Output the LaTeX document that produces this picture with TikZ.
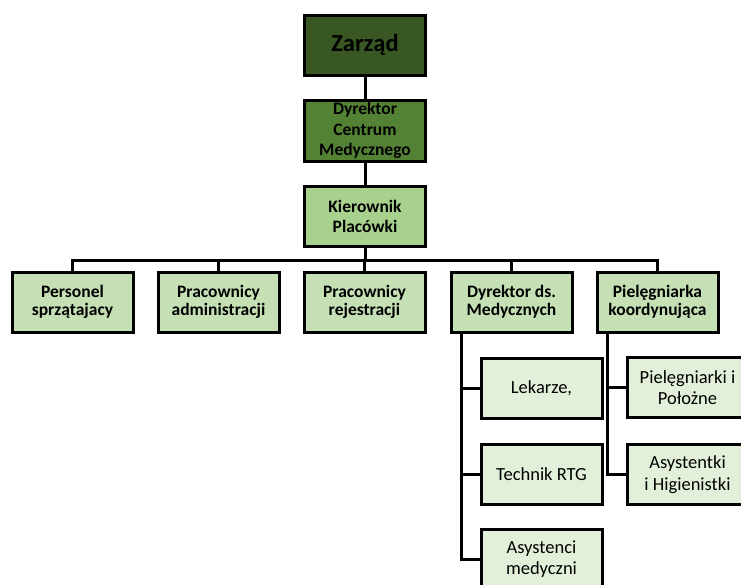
\documentclass[tikz,border=0pt]{standalone}
\usepackage{fontspec}
\setmainfont{Carlito}
\definecolor{gA}{HTML}{385723}
\definecolor{gB}{HTML}{548235}
\definecolor{gC}{HTML}{A9D18E}
\definecolor{gD}{HTML}{C5E0B4}
\definecolor{gE}{HTML}{E2F0D9}
\begin{document}
\begin{tikzpicture}[x=1pt,y=-1pt,
  box/.style={draw=black,line width=3pt,minimum width=121pt,minimum height=60pt,inner sep=0pt,align=center,text=black},
  topbox/.style={box,fill=gA,font=\bfseries\fontsize{24.5}{28}\selectfont},
  dirbox/.style={box,fill=gB,minimum height=61pt,font=\bfseries\fontsize{17.5}{20.8}\selectfont},
  kierbox/.style={box,fill=gC,font=\bfseries\fontsize{17.5}{20}\selectfont},
  secbox/.style={box,fill=gD,font=\bfseries\fontsize{17.5}{18}\selectfont},
  subbox/.style={box,fill=gE,font=\fontsize{18.5}{21.7}\selectfont},
  conn/.style={line width=3pt,line join=miter}]
\useasboundingbox (0,0) rectangle (741,584);
\clip (0,0) rectangle (741,584);
\node[topbox] (zarz) at (365,45) {Zarząd};
\node[dirbox] (dcm) at (365,130.5) {Dyrektor\\Centrum\\Medycznego};
\node[kierbox] (kier) at (365,216) {Kierownik\\Placówki};
\coordinate (bus) at (365,260);
\node[secbox] (pers) at (72.5,302) {Personel\\sprzątajacy};
\node[secbox] (adm) at (218.5,302) {Pracownicy\\administracji};
\node[secbox] (rej) at (364.5,302) {Pracownicy\\rejestracji};
\node[secbox] (dds) at (511.5,302) {Dyrektor ds.\\Medycznych};
\node[secbox] (piel) at (657.5,302) {Pielęgniarka\\koordynująca};
\node[subbox] (lek) at (541.5,388) {Lekarze,};
\node[subbox] (rtg) at (541.5,474) {Technik RTG};
\node[subbox] (asm) at (541.5,559) {Asystenci\\medyczni};
\node[subbox] (poz) at (687.5,387.5) {Pielęgniarki i\\Położne};
\node[subbox] (hig) at (687.5,474.5) {Asystentki\\i Higienistki};
\draw[conn] (zarz) -- (dcm);
\draw[conn] (dcm) -- (kier);
\draw[conn] (kier.south) -- (bus);
\draw[conn] (pers.north) |- (bus);
\draw[conn] (adm.north) |- (bus);
\draw[conn] (rej.north) |- (bus);
\draw[conn] (dds.north) |- (bus);
\draw[conn] (piel.north) |- (bus);
\draw[conn] ([xshift=12pt]dds.south west) |- (lek.west);
\draw[conn] ([xshift=12pt]dds.south west) |- (rtg.west);
\draw[conn] ([xshift=12pt]dds.south west) |- (asm.west);
\draw[conn] ([xshift=12pt]piel.south west) |- (poz.west);
\draw[conn] ([xshift=12pt]piel.south west) |- (hig.west);
\end{tikzpicture}
\end{document}
